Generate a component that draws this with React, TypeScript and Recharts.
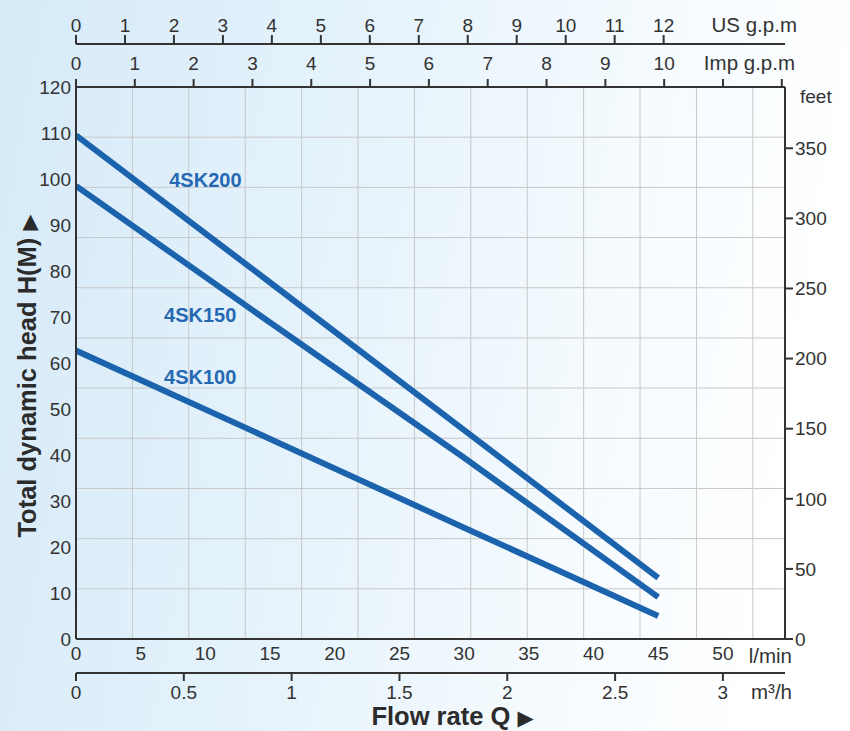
import React from "react";
import {
  LineChart,
  Line,
  XAxis,
  YAxis,
  CartesianGrid,
  ReferenceDot,
  Label,
} from "recharts";

// flow rate in l/min, heads in metres
const flowLpm = [0, 15, 30, 45];
const head4SK200 = [109.5, 77.5, 45.4, 13.3];
const head4SK150 = [98.5, 68.8, 39.4, 9.1];
const head4SK100 = [62.7, 43.5, 24.2, 5.0];

const lpmTicks = [0, 5, 10, 15, 20, 25, 30, 35, 40, 45, 50];
const m3hTicks = [0, 0.5, 1, 1.5, 2, 2.5, 3];
const usGpmTicks = [0, 1, 2, 3, 4, 5, 6, 7, 8, 9, 10, 11, 12];
const impGpmTicks = [0, 1, 2, 3, 4, 5, 6, 7, 8, 9, 10, 11, 12];
const headTicks = [0, 10, 20, 30, 40, 50, 60, 70, 80, 90, 100, 110, 120];
const feetTicks = [0, 50, 100, 150, 200, 250, 300, 350];

// decorative grid, not tied to any unit
const gridColTicks = [0, 1, 2, 3, 4, 5, 6, 7, 8, 9, 10, 11, 12];
const gridRowTicks = [0, 1, 2, 3, 4, 5, 6, 7, 8, 9, 10, 11];

const LPM_MAX = 54.8;
const HEAD_MAX = 120;
const FT_PER_M = 3.2808;
const LPM_PER_M3H = 16.667;
const LPM_PER_USGPM = 3.785;
const LPM_PER_IMPGPM = 4.546;

const data = flowLpm.map((q, i) => ({
  q,
  m3h: q / LPM_PER_M3H,
  usgpm: q / LPM_PER_USGPM,
  impgpm: q / LPM_PER_IMPGPM,
  sk200: head4SK200[i],
  sk150: head4SK150[i],
  sk100: head4SK100[i],
}));

const FONT = '"Liberation Sans", Arial, sans-serif';
const INK = "#333";
const TITLE_INK = "#2b2b2b";
const BLUE = "#1c63ae";
const LABEL_BLUE = "#2669b3";

const tickStyle = { fill: INK, fontSize: 19, fontFamily: FONT };
const axisLine = { stroke: INK, strokeWidth: 2 };

const unitText = (text: string, dxFromRight: number, dyFromTop: number) =>
  (props: any) => {
    const vb = props.viewBox || {};
    return (
      <text
        x={vb.x + vb.width + dxFromRight}
        y={vb.y + dyFromTop}
        textAnchor="end"
        fill={INK}
        fontSize={20.5}
        fontFamily={FONT}
      >
        {text}
      </text>
    );
  };

// bold axis title followed by a small arrow
const titleText = (text: string, vertical: boolean) => (props: any) => {
  const vb = props.viewBox || {};
  const x = vertical ? vb.x + 36 : vb.x + vb.width / 2 + 22;
  const y = vertical ? vb.y + vb.height / 2 + 13 : vb.y + 52;
  return (
    <text
      x={x}
      y={y}
      textAnchor="middle"
      transform={vertical ? `rotate(-90, ${x}, ${y})` : undefined}
      fill={TITLE_INK}
      fontSize={25.5}
      fontWeight={700}
      fontFamily={FONT}
    >
      {text + " "}
      <tspan fontSize={21} fontFamily='"DejaVu Sans", sans-serif'>
        ▶
      </tspan>
    </text>
  );
};

const seriesLabel = (text: string) => ({
  value: text,
  position: "center" as const,
  fill: LABEL_BLUE,
  fontSize: 20,
  fontWeight: 700,
  fontFamily: FONT,
});

export default function App() {
  return (
    <div
      style={{
        position: "fixed",
        left: 0,
        top: 0,
        width: 850,
        height: 731,
        background:
          "linear-gradient(100deg, #d6eaf8 0%, #e6f3fb 40%, #f6fbfe 70%, #ffffff 90%)",
      }}
    >
      <LineChart
        width={850}
        height={731}
        data={data}
        margin={{ top: 0, right: 0, bottom: 0, left: 0 }}
      >
        {/* bottom: l/min, then m3/h */}
        <XAxis
          xAxisId="lpm"
          dataKey="q"
          type="number"
          orientation="bottom"
          domain={[0, LPM_MAX]}
          ticks={lpmTicks}
          interval={0}
          allowDataOverflow
          height={34}
          axisLine={axisLine}
          tickLine={false}
          tickSize={0}
          tickMargin={8}
          tick={tickStyle}
        >
          <Label content={unitText("l/min", 7, 24)} />
        </XAxis>
        <XAxis
          xAxisId="m3h"
          dataKey="m3h"
          type="number"
          orientation="bottom"
          domain={[0, LPM_MAX / LPM_PER_M3H]}
          ticks={m3hTicks}
          interval={0}
          allowDataOverflow
          height={58}
          axisLine={axisLine}
          tickLine={axisLine}
          tickSize={8}
          tickMargin={5}
          tick={tickStyle}
        >
          <Label content={unitText("m³/h", 7, 26)} />
          <Label content={titleText("Flow rate Q", false)} />
        </XAxis>

        {/* top: Imp g.p.m, then US g.p.m */}
        <XAxis
          xAxisId="imp"
          dataKey="impgpm"
          type="number"
          orientation="top"
          domain={[0, LPM_MAX / LPM_PER_IMPGPM]}
          ticks={impGpmTicks}
          interval={0}
          allowDataOverflow
          height={43}
          axisLine={axisLine}
          tickLine={axisLine}
          tickSize={8}
          tickMargin={9}
          tick={tickStyle}
          tickFormatter={(v: number) => (v <= 10 ? String(v) : "")}
        >
          <Label content={unitText("Imp g.p.m", 10, 26)} />
        </XAxis>
        <XAxis
          xAxisId="us"
          dataKey="usgpm"
          type="number"
          orientation="top"
          domain={[0, LPM_MAX / LPM_PER_USGPM]}
          ticks={usGpmTicks}
          interval={0}
          allowDataOverflow
          height={44}
          axisLine={axisLine}
          tickLine={axisLine}
          tickSize={9}
          tickMargin={3}
          tick={tickStyle}
        >
          <Label content={unitText("US g.p.m", 12, 32)} />
        </XAxis>

        <YAxis
          yAxisId="m"
          type="number"
          orientation="left"
          domain={[0, HEAD_MAX]}
          ticks={headTicks}
          interval={0}
          allowDataOverflow
          width={76}
          axisLine={axisLine}
          tickLine={false}
          tickSize={0}
          tickMargin={5}
          tick={tickStyle}
        >
          <Label content={titleText("Total dynamic head H(M)", true)} />
        </YAxis>
        <YAxis
          yAxisId="ft"
          type="number"
          orientation="right"
          domain={[0, HEAD_MAX * FT_PER_M]}
          ticks={feetTicks}
          interval={0}
          allowDataOverflow
          width={65}
          axisLine={axisLine}
          tickLine={axisLine}
          tickSize={8}
          tickMargin={2}
          tick={tickStyle}
        >
          <Label
            content={(props: any) => {
              const vb = props.viewBox || {};
              return (
                <text
                  x={vb.x + 15}
                  y={vb.y + 16}
                  fill={INK}
                  fontSize={19}
                  fontFamily={FONT}
                >
                  feet
                </text>
              );
            }}
          />
        </YAxis>

        {/* hidden axes that only carry the grid, declared last so they take no room */}
        <XAxis
          xAxisId="gridX"
          dataKey="q"
          type="number"
          domain={[0, 12.57]}
          ticks={gridColTicks}
          allowDataOverflow
          height={0}
          hide
        />
        <YAxis
          yAxisId="gridY"
          type="number"
          domain={[0, 11]}
          ticks={gridRowTicks}
          allowDataOverflow
          width={0}
          hide
        />
        <CartesianGrid
          xAxisId="gridX"
          yAxisId="gridY"
          stroke="#c8c8c8"
          strokeWidth={1}
        />

        <Line
          xAxisId="lpm"
          yAxisId="m"
          type="linear"
          dataKey="sk200"
          stroke={BLUE}
          strokeWidth={6}
          dot={false}
          activeDot={false}
          isAnimationActive={false}
        />
        <Line
          xAxisId="lpm"
          yAxisId="m"
          type="linear"
          dataKey="sk150"
          stroke={BLUE}
          strokeWidth={6}
          dot={false}
          activeDot={false}
          isAnimationActive={false}
        />
        <Line
          xAxisId="lpm"
          yAxisId="m"
          type="linear"
          dataKey="sk100"
          stroke={BLUE}
          strokeWidth={6}
          dot={false}
          activeDot={false}
          isAnimationActive={false}
        />

        <ReferenceDot xAxisId="lpm" yAxisId="m" x={10} y={99.8} r={0} label={seriesLabel("4SK200")} />
        <ReferenceDot xAxisId="lpm" yAxisId="m" x={9.6} y={70.5} r={0} label={seriesLabel("4SK150")} />
        <ReferenceDot xAxisId="lpm" yAxisId="m" x={9.6} y={57} r={0} label={seriesLabel("4SK100")} />
      </LineChart>
    </div>
  );
}
